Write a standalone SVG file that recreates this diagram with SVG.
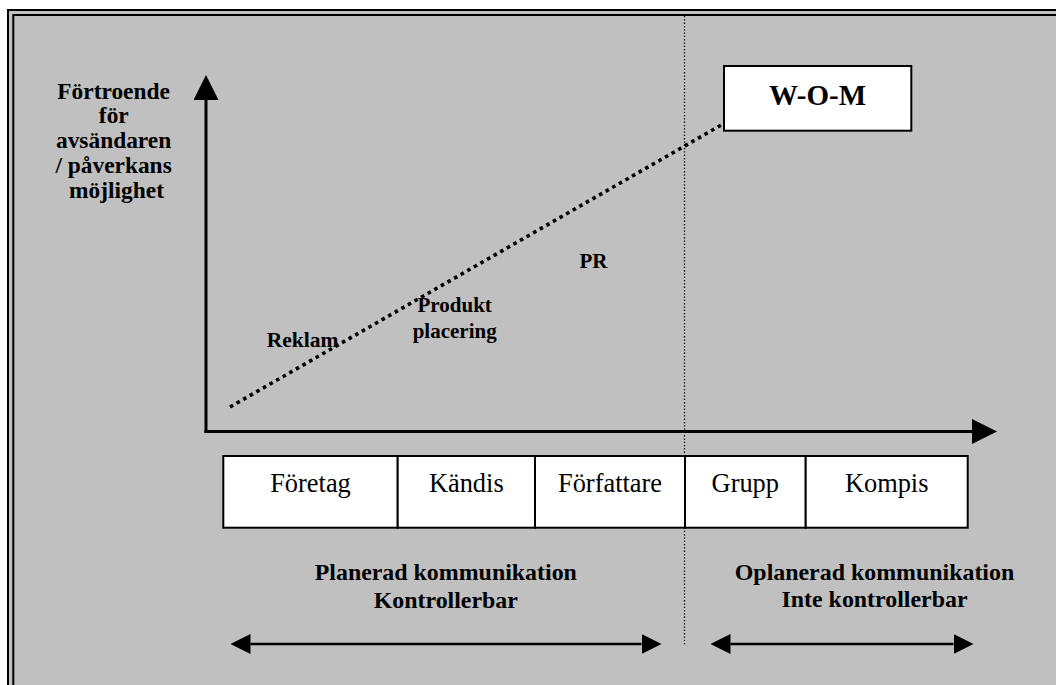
<svg xmlns="http://www.w3.org/2000/svg" width="1056" height="685" viewBox="0 0 1056 685">
<defs>
<style>
.bold{font-family:"Liberation Serif","Times New Roman",serif;font-weight:bold;fill:#000}
.reg{font-family:"Liberation Serif","Times New Roman",serif;fill:#000}
.cell{fill:#fff;stroke:#000;stroke-width:2}
.axis{stroke:#000;stroke-width:3;fill:none}
.span{stroke:#000;stroke-width:2.5;fill:none}
</style>
<marker id="axhead" markerUnits="userSpaceOnUse" markerWidth="26" markerHeight="26" refX="0" refY="12.5" orient="auto">
<path d="M0,0 L25,12.5 L0,25 Z" fill="#000"/>
</marker>
<marker id="sphead" markerUnits="userSpaceOnUse" markerWidth="21" markerHeight="21" refX="0" refY="10" orient="auto-start-reverse">
<path d="M0,0 L20,10 L0,20 Z" fill="#000"/>
</marker>
</defs>
<rect x="0" y="0" width="1056" height="685" fill="#fff"/>
<g id="frame">
<rect x="8" y="10" width="1070" height="700" fill="#c0c0c0" stroke="#000" stroke-width="2"/>
<rect x="13.3" y="15" width="1060" height="690" fill="#c0c0c0" stroke="#000" stroke-width="2"/>
</g>
<g id="divider">
<line x1="684.5" y1="16" x2="684.5" y2="646" stroke="#000" stroke-width="1.3" stroke-dasharray="1.3 2"/>
</g>
<g id="connectors">
<line class="axis" x1="206" y1="433" x2="206" y2="100" marker-end="url(#axhead)"/>
<line class="axis" x1="204.5" y1="431.5" x2="972" y2="431.5" marker-end="url(#axhead)"/>
<line x1="230" y1="407" x2="723" y2="124" stroke="#000" stroke-width="3.6" stroke-dasharray="3.6 4"/>
<line class="span" x1="250.5" y1="644" x2="641.5" y2="644" marker-start="url(#sphead)" marker-end="url(#sphead)"/>
<line class="span" x1="730.5" y1="644" x2="953.5" y2="644" marker-start="url(#sphead)" marker-end="url(#sphead)"/>
</g>
<g id="ylabel">
<text class="bold" font-size="23.4" text-anchor="middle">
<tspan x="116.5" y="99.3">Förtroende</tspan>
<tspan x="116.5" y="123.3">för</tspan>
<tspan x="116.5" y="148">avsändaren</tspan>
<tspan x="116.5" y="172.7">/ påverkans</tspan>
<tspan x="116.5" y="197.5">möjlighet</tspan>
</text>
</g>
<g id="wom">
<rect x="724" y="66" width="187.3" height="64.7" fill="#fff" stroke="#000" stroke-width="2"/>
<text class="bold" font-size="29" x="817.5" y="105" text-anchor="middle">W-O-M</text>
</g>
<g id="reklam">
<text class="bold" font-size="21.5" x="302.5" y="347.3" text-anchor="middle">Reklam</text>
</g>
<g id="produkt">
<text class="bold" font-size="21" text-anchor="middle"><tspan x="454.7" y="311.7">Produkt</tspan><tspan x="454.7" y="338.3">placering</tspan></text>
</g>
<g id="pr">
<text class="bold" font-size="21" x="593.5" y="268" text-anchor="middle">PR</text>
</g>
<g id="foretag">
<rect class="cell" x="223.3" y="456" width="174.4" height="71.7"/>
<text class="reg" font-size="26.4" x="310.5" y="491.7" text-anchor="middle">Företag</text>
</g>
<g id="kandis">
<rect class="cell" x="397.7" y="456" width="137.3" height="71.7"/>
<text class="reg" font-size="26.4" x="466.3" y="491.7" text-anchor="middle">Kändis</text>
</g>
<g id="forfattare">
<rect class="cell" x="535" y="456" width="150" height="71.7"/>
<text class="reg" font-size="26.4" x="610" y="491.7" text-anchor="middle">Författare</text>
</g>
<g id="grupp">
<rect class="cell" x="685" y="456" width="120.7" height="71.7"/>
<text class="reg" font-size="26.4" x="745.3" y="491.7" text-anchor="middle">Grupp</text>
</g>
<g id="kompis">
<rect class="cell" x="805.7" y="456" width="162" height="71.7"/>
<text class="reg" font-size="26.4" x="886.7" y="491.7" text-anchor="middle">Kompis</text>
</g>
<g id="planerad">
<text class="bold" font-size="23.9" text-anchor="middle"><tspan x="445.8" y="580">Planerad kommunikation</tspan><tspan x="445.8" y="608">Kontrollerbar</tspan></text>
</g>
<g id="oplanerad">
<text class="bold" font-size="23.9" text-anchor="middle"><tspan x="874.5" y="580">Oplanerad kommunikation</tspan><tspan x="874.5" y="606.7">Inte kontrollerbar</tspan></text>
</g>
</svg>
